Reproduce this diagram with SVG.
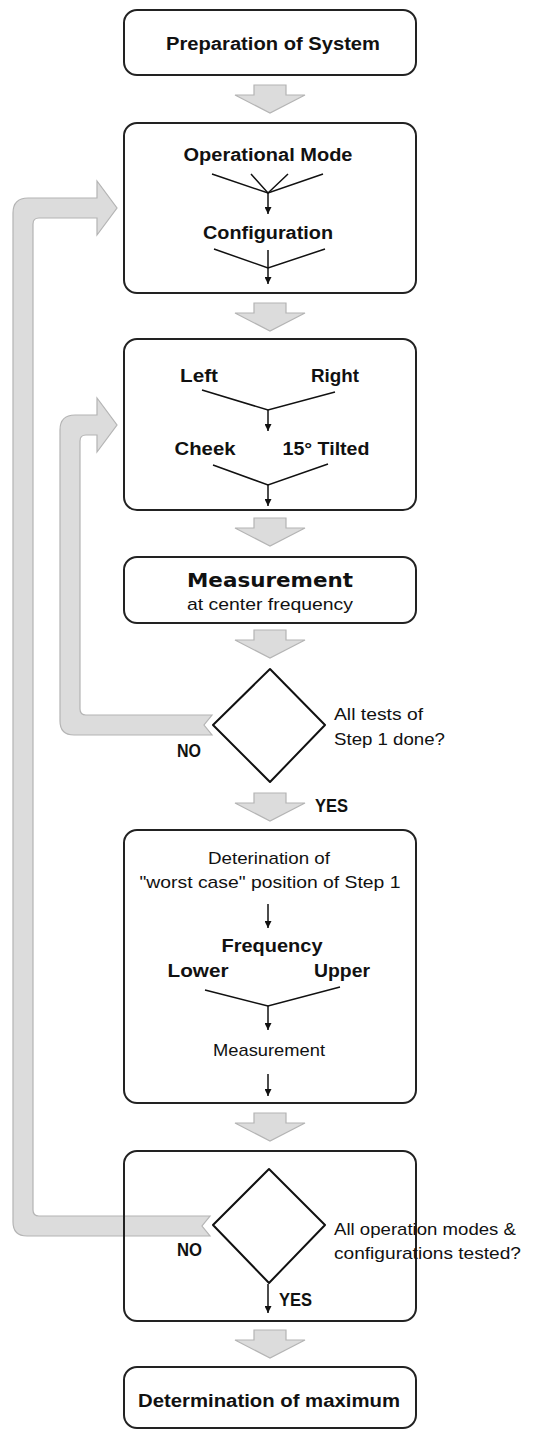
<svg xmlns="http://www.w3.org/2000/svg" width="539" height="1431" viewBox="0 0 539 1431">
<style>
.box{fill:none;stroke:#222;stroke-width:2}
.dia{fill:none;stroke:#111;stroke-width:2;stroke-linejoin:round}
.blk{fill:#dcdcdc;stroke:#b4b4b4;stroke-width:1.2}
.ln{fill:none;stroke:#111;stroke-width:1.5}
.ar{fill:none;stroke:#111;stroke-width:1.5;marker-end:url(#ah)}
.b{font-family:"Liberation Sans",Arial,sans-serif;font-weight:bold;font-size:18px;fill:#111}
.r{font-family:"Liberation Sans",Arial,sans-serif;font-size:17px;fill:#111}
.c{text-anchor:middle}
</style>
<defs>
<marker id="ah" viewBox="0 0 8 8" refX="8" refY="4" markerWidth="7" markerHeight="7" markerUnits="userSpaceOnUse" orient="auto">
<path d="M0,0 L8,4 L0,8 z" fill="#111"/>
</marker>
<path id="down" class="blk" d="M-16,0 H16 V10 H35 L0,28 L-35,10 H-16 Z"/>
</defs>
<rect width="539" height="1431" fill="#fff"/>

<g id="connectors">
<use href="#down" transform="translate(270,85)"/>
<use href="#down" transform="translate(270,303)"/>
<use href="#down" transform="translate(270,518)"/>
<use href="#down" transform="translate(270,630)"/>
<use href="#down" transform="translate(270,793)"/>
<use href="#down" transform="translate(270,1113)"/>
<use href="#down" transform="translate(270,1330)"/>
<path class="blk" d="M210,1216 H39 Q33,1216 33,1210 V224 Q33,218 39,218 H97 V235 L117,208 L97,181 V198 H28 Q13,198 13,213 V1222 Q13,1236 27,1236 H210 L202,1226 Z"/>
<path class="blk" d="M212,715 H86 Q80,715 80,709 V441 Q80,435 86,435 H97 V452 L117,425 L97,398 V415 H75 Q60,415 60,430 V721 Q60,735 74,735 H212 L204,725 Z"/>
<polyline class="ln" points="212,174 268,193 323,174"/>
<polyline class="ln" points="251,174 268,193 288,174"/>
<line class="ar" x1="268" y1="193" x2="268" y2="214"/>
<polyline class="ln" points="214,249 268,268 325,249"/>
<line class="ar" x1="268" y1="250" x2="268" y2="284"/>
<polyline class="ln" points="202,390 268,410 335,392"/>
<line class="ar" x1="268" y1="410" x2="268" y2="431"/>
<polyline class="ln" points="213,465 268,485 328,464"/>
<line class="ar" x1="268" y1="485" x2="268" y2="506"/>
<line class="ar" x1="268" y1="904" x2="268" y2="928"/>
<polyline class="ln" points="205,990 268,1006 340,987"/>
<line class="ar" x1="268" y1="1006" x2="268" y2="1030"/>
<line class="ar" x1="268" y1="1074" x2="268" y2="1096"/>
<line class="ar" x1="268" y1="1284" x2="268" y2="1313"/>
</g>

<g id="preparation">
<rect class="box" x="124" y="10" width="292" height="65" rx="13"/>
<text class="b c" x="273" y="50" textLength="214" lengthAdjust="spacingAndGlyphs">Preparation of System</text>
</g>

<g id="mode-config">
<rect class="box" x="124" y="123" width="292" height="170" rx="13"/>
<text class="b c" x="268" y="161" textLength="169" lengthAdjust="spacingAndGlyphs">Operational Mode</text>
<text class="b c" x="268" y="239" textLength="130" lengthAdjust="spacingAndGlyphs">Configuration</text>
</g>

<g id="position">
<rect class="box" x="124" y="339" width="292" height="171" rx="13"/>
<text class="b c" x="199" y="382" textLength="38" lengthAdjust="spacingAndGlyphs">Left</text>
<text class="b c" x="335" y="382" textLength="48" lengthAdjust="spacingAndGlyphs">Right</text>
<text class="b c" x="205" y="455" textLength="61" lengthAdjust="spacingAndGlyphs">Cheek</text>
<text class="b c" x="326" y="455" textLength="87" lengthAdjust="spacingAndGlyphs">15° Tilted</text>
</g>

<g id="measurement-center">
<rect class="box" x="124" y="557" width="292" height="66" rx="13"/>
<text class="c" x="270" y="587" font-family="'DejaVu Sans',Verdana,sans-serif" font-weight="bold" font-size="20" fill="#111" textLength="166" lengthAdjust="spacingAndGlyphs">Measurement</text>
<text class="r c" x="270" y="610" textLength="166" lengthAdjust="spacingAndGlyphs">at center frequency</text>
</g>

<g id="decision-step1">
<polygon class="dia" points="270,669 325,725 270,782 213,725"/>
<text class="r" x="334" y="720" textLength="89" lengthAdjust="spacingAndGlyphs">All tests of</text>
<text class="r" x="334" y="745" textLength="111" lengthAdjust="spacingAndGlyphs">Step 1 done?</text>
<text class="b" x="177" y="757" font-size="16" textLength="24" lengthAdjust="spacingAndGlyphs">NO</text>
<text class="b" x="315" y="812" font-size="16" textLength="33" lengthAdjust="spacingAndGlyphs">YES</text>
</g>

<g id="step2">
<rect class="box" x="124" y="830" width="292" height="273" rx="13"/>
<text class="r c" x="269" y="864" textLength="122" lengthAdjust="spacingAndGlyphs">Deterination of</text>
<text class="r c" x="270" y="888" textLength="261" lengthAdjust="spacingAndGlyphs">"worst case" position of Step 1</text>
<text class="b c" x="272" y="952" textLength="101" lengthAdjust="spacingAndGlyphs">Frequency</text>
<text class="b c" x="198" y="977" textLength="61" lengthAdjust="spacingAndGlyphs">Lower</text>
<text class="b c" x="342" y="977" textLength="56" lengthAdjust="spacingAndGlyphs">Upper</text>
<text class="r c" x="269" y="1056" textLength="112" lengthAdjust="spacingAndGlyphs">Measurement</text>
</g>

<g id="decision-all">
<rect class="box" x="124" y="1151" width="292" height="170" rx="13"/>
<polygon class="dia" points="269,1169 325,1225 269,1283 213,1225"/>
<text class="r" x="334" y="1235" textLength="182" lengthAdjust="spacingAndGlyphs">All operation modes &amp;</text>
<text class="r" x="334" y="1259" textLength="187" lengthAdjust="spacingAndGlyphs">configurations tested?</text>
<text class="b" x="177" y="1256" font-size="16" textLength="25" lengthAdjust="spacingAndGlyphs">NO</text>
<text class="b" x="279" y="1306" font-size="16" textLength="33" lengthAdjust="spacingAndGlyphs">YES</text>
</g>

<g id="maximum">
<rect class="box" x="124" y="1367" width="292" height="61" rx="13"/>
<text class="b c" x="269" y="1407" textLength="262" lengthAdjust="spacingAndGlyphs">Determination of maximum</text>
</g>
</svg>
